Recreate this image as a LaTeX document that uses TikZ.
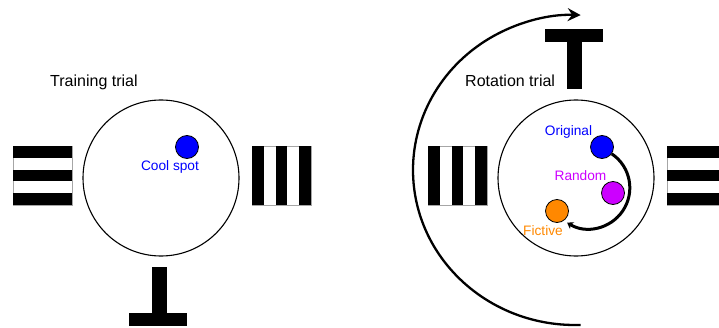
\documentclass[tikz,border=0pt]{standalone}
\usepackage{fontspec}
\setmainfont{Liberation Sans}
\usetikzlibrary{arrows.meta}
\definecolor{cblue}{RGB}{0,0,255}
\definecolor{cmag}{RGB}{204,0,255}
\definecolor{corange}{RGB}{255,136,0}
\tikzset{
  arena/.style={circle,draw=black,line width=1.1pt,minimum size=156pt,inner sep=0pt},
  spot/.style={circle,draw=black,line width=0.8pt,minimum size=23pt,inner sep=0pt},
  title/.style={font=\fontsize{16}{18}\selectfont,anchor=base west,inner sep=0pt},
  lab/.style={font=\fontsize{13.7}{16}\selectfont,anchor=base,inner sep=0pt},
  band/.style={fill=black,draw=none},
  cardbg/.style={fill=white,draw=gray!70,line width=0.6pt},
  bigarrow/.style={line width=2.3pt,-{Stealth[length=13pt,width=13pt,inset=4.5pt]}},
  smallarrow/.style={line width=3pt,-{Stealth[length=6pt,width=8pt,inset=2pt]}}
}
\begin{document}
\begin{tikzpicture}[x=1pt,y=1pt]
\useasboundingbox (0,0) rectangle (719,327);
\clip (0,0) rectangle (719,327);
% ---------- left panel ----------
\node[title] (t1) at (50,240.5) {Training trial};
\node[arena] (a1) at (161,149) {};
\node[spot,fill=cblue] (cool) at (187,180) {};
\node[lab,text=cblue] (coollab) at (170,157) {Cool spot};
% left horizontal stripes
\path[cardbg] (13,122) rectangle (72,181);
\foreach \i in {0,2,4} \fill[band] (13,{122+\i*11.8}) rectangle (72,{122+(\i+1)*11.8});
% right vertical stripes
\path[cardbg] (252,122) rectangle (311,181);
\foreach \i in {0,2,4} \fill[band] ({252+\i*11.8},122) rectangle ({252+(\i+1)*11.8},181);
% bottom inverted T
\fill[band] (152,1) rectangle (167,60);
\fill[band] (129,1) rectangle (187,14);
% ---------- right panel ----------
\node[title] (t2) at (465,240.5) {Rotation trial};
\node[arena] (a2) at (576,149) {};
\coordinate (arcstart) at (580.65,2.1);
\draw[bigarrow] (arcstart) arc[start angle=272, end angle=88, x radius=162, y radius=155];
% top T
\fill[band] (567,238) rectangle (582,298);
\fill[band] (545,285) rectangle (603,298);
% left vertical stripes
\path[cardbg] (428,122) rectangle (487,181);
\foreach \i in {0,2,4} \fill[band] ({428+\i*11.8},122) rectangle ({428+(\i+1)*11.8},181);
% right horizontal stripes
\path[cardbg] (667,122) rectangle (726,181);
\foreach \i in {0,2,4} \fill[band] (667,{122+\i*11.8}) rectangle (726,{122+(\i+1)*11.8});
% spots
\node[spot,fill=cblue] (orig) at (602,180) {};
\node[spot,fill=cmag] (rand) at (613,134) {};
\node[spot,fill=corange] (fict) at (557,116) {};
\node[lab,text=cblue] (origlab) at (568.5,192) {Original};
\node[lab,text=cmag] (randlab) at (580.5,147) {Random};
\node[lab,text=corange] (fictlab) at (543,92) {Fictive};
\draw[smallarrow] (orig.-35) arc[start angle=56, end angle=-122, radius=41];
\end{tikzpicture}
\end{document}
